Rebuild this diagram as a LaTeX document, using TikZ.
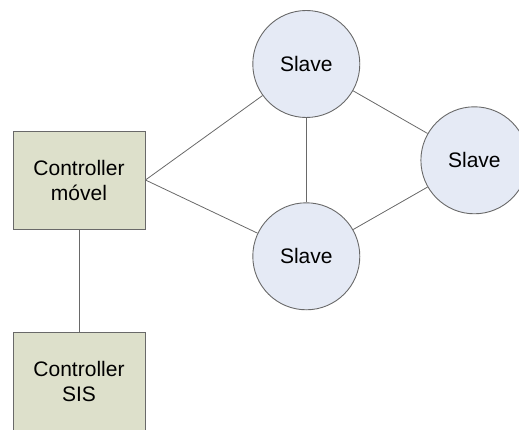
\documentclass[tikz,border=0pt]{standalone}
\usepackage{fontspec}
\setmainfont{Liberation Sans}
\usetikzlibrary{positioning}
\definecolor{boxgreen}{RGB}{221,224,203}
\definecolor{slaveblue}{RGB}{229,234,245}
\definecolor{edgegray}{RGB}{105,105,105}
\tikzset{ctrlbox/.style={
            draw=edgegray,
            fill=boxgreen,
            line width=0.9pt,
            inner sep=0pt,
            minimum width=132pt,
            minimum height=98pt,
            align=center,
            font=\fontsize{21}{25}\selectfont
        },
        slavenode/.style={
            draw=edgegray,
            circle,
            fill=slaveblue,
            line width=0.9pt,
            inner sep=0pt,
            minimum size=107pt,
            font=\fontsize{21}{25}\selectfont
        },
        link/.style={
            draw=edgegray,
            line width=0.8pt
        }
    }
\begin{document}
\begin{tikzpicture}[x=1pt,y=-1pt]
        \useasboundingbox (0,0) rectangle (519,430);
        \clip (0,0) rectangle (519,430);

        \node[ctrlbox] at (79,180) (ctrl) {Controller\\móvel};
        \node[ctrlbox] at (79,381.7) (sis) {Controller\\SIS};

        \node[slavenode] at (306.3,64) (slavetop) {Slave};
        \node[slavenode] at (474.4,160.3) (slaveright) {Slave};
        \node[slavenode] at (306.3,256.3) (slavebot) {Slave};

        \draw[link] (ctrl.east) -- (slavetop);
        \draw[link] (ctrl.east) -- (slavebot);
        \draw[link] (slavetop) -- (slavebot);
        \draw[link] (slavetop) -- (slaveright);
        \draw[link] (slavebot) -- (slaveright);
        \draw[link] (ctrl) -- (sis);
    \end{tikzpicture}
\end{document}
